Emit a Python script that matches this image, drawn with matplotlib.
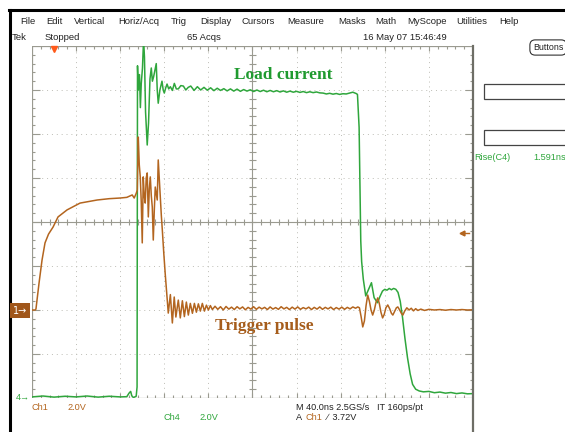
import numpy as np
import matplotlib
matplotlib.use("Agg")
import matplotlib.pyplot as plt
from matplotlib.lines import Line2D
from matplotlib.patches import Rectangle
from matplotlib.collections import LineCollection

# ---------------- data (time in ns, volts) ----------------
trig_t = [0, 3, 3.6, 6.4, 9.1, 11.8, 15, 19.1, 23.6, 31.8, 43.6, 59.1, 70, 80, 86, 90.9, 92.7, 94.5, 95.5,
          96.4, 97.3, 98.2, 99.1, 100, 100.9, 101.8, 102.7, 103.6, 104.5, 105.5, 106.4, 107.3, 108.2, 109.1,
          110, 110.9, 111.8, 112.7, 113.6, 114.5, 115.5, 116.4, 117.3, 118.2, 119.5, 120.9, 122, 123.6, 125.5,
          127.3, 129, 130.5, 132.7, 134.5, 136.4, 138.2, 140, 141.8, 143.6, 145.5, 147.3, 149.1, 150.9, 152.7,
          154.5, 156.4, 158.2, 160, 161.8, 163.6,
          166, 168.5, 171, 173.5, 176, 178.5, 181, 183.5, 186, 188.5,
          191, 193.5, 196, 198.5, 201, 203.5, 206, 208.5, 211, 213.5,
          216, 218.5, 221, 223.5, 226, 228.5, 231, 233.5, 236, 238.5,
          241, 243.5, 246, 248.5, 251, 253.5, 256, 258.5, 261, 263.5,
          266, 268.5, 271, 273.5, 276, 278.5, 281, 283.5, 286, 288.5,
          291, 293.5,
          295.5, 297, 298.5, 300, 301.5, 303, 304.5, 306, 307.5, 309, 310.5, 312, 313.6, 315, 316.5, 318, 319.5,
          321, 322.7, 324.5, 326, 327.3, 329, 330.5, 331.8, 333.5, 335, 336.4, 338, 340, 342, 344, 346, 348,
          350, 352.7, 356, 360, 365, 370, 375, 380, 385, 390, 395, 400]
trig_v = [0, 0, 0.05, 1.23, 2.27, 3.05, 3.45, 3.77, 4.23, 4.55, 4.86, 5.0, 5.06, 5.09, 5.12, 5.23, 5.09, 5.3, 5.45,
          7.86, 6.6, 6.05, 4.9, 3.05, 6.05, 5.2, 4.86, 6.0, 6.23, 4.23, 5.5, 6.05, 5.2, 4.68,
          3.18, 4.5, 5.59, 5.3, 5.0, 6.82, 5.9, 5.0, 4.3, 3.64, 2.6, 1.6, 0.9, -0.14, 0.7,
          -0.59, 0.59, -0.32, 0.45, -0.36, 0.42, -0.3, 0.36, -0.23, 0.3, -0.15, 0.3, -0.1, 0.28, -0.05,
          0.3, -0.05, 0.22, 0.0, 0.2, 0.02,
          0.17, 0.03, 0.15, 0.00, 0.16, 0.04, 0.13, 0.02, 0.15, 0.05,
          0.14, 0.01, 0.12, 0.04, 0.15, 0.03, 0.13, 0.05, 0.12, 0.02,
          0.14, 0.04, 0.11, 0.03, 0.15, 0.05, 0.12, 0.02, 0.13, 0.04,
          0.14, 0.03, 0.11, 0.05, 0.13, 0.02, 0.12, 0.04, 0.14, 0.03,
          0.12, 0.05, 0.13, 0.02, 0.11, 0.04, 0.13, 0.03, 0.12, 0.05,
          0.14, 0.08,
          0.14, 0.1, -0.3, -0.77, -0.5, 0.2, 0.68, 0.4, 0.0, -0.23, 0.0, 0.35, 0.55, 0.3, -0.1, -0.36, -0.2,
          0.1, 0.23, 0.05, -0.15, -0.23, -0.05, 0.1, 0.14, 0.0, -0.15, -0.23, -0.05, 0.1, 0.0, 0.08, -0.04, 0.06,
          -0.02, 0.04, -0.02, 0.03, 0.0, 0.02, -0.01, 0.02, 0.0, 0.02, 0.0, 0.01]

load_t = [0, 10, 20, 30, 40, 50, 60, 70, 80, 86, 88, 89.5, 90.5, 92, 94.5,
          95.3, 95.7, 96.4, 97.5, 98.3, 99.1, 100.2, 101.2, 102, 103, 104.5, 105.7, 107, 108.2, 109.2, 110.3,
          111.5, 112.7, 113.6, 114.5, 116, 117.9, 119, 120, 121.3, 122.5, 124, 125.5, 127.3, 129.1, 130.9,
          132.7, 135, 137.3, 139.5, 141.7,
          144, 147, 150, 153, 156, 159, 162, 165, 168, 171,
          174, 177, 180, 183, 186, 189, 192, 195, 198, 201,
          204, 207, 210, 213, 216, 219, 222, 225, 228, 231,
          234, 237, 240, 243, 246, 249, 252, 255, 258, 261,
          264, 267, 270, 273, 276, 279, 282, 285, 288, 291,
          294,
          295.2, 296.7, 298.2, 299, 300.5, 302.7, 305, 307.9, 310.3, 313.4, 315.5, 317.9, 320, 322, 324, 326,
          328, 330, 332, 334, 336.1, 338.3, 340.6, 343, 345.2, 348, 351.2, 355, 360, 365, 370, 375, 380, 385,
          390, 395, 400]
load_v = [0.05, 0.09, 0.04, 0.08, 0.05, 0.09, 0.04, 0.08, 0.05, 0.06, 0.22, 0.3, 0.1, 0.02, 0.08,
          0.5, 15.1, 14.0, 14.7, 13.2, 14.3, 15.0, 16.3, 15.5, 13.0, 11.5, 12.5, 14.5, 15.0, 14.4, 14.6,
          14.9, 15.2, 14.0, 13.4, 14.0, 14.4, 14.0, 13.86, 14.1, 14.27, 14.05, 14.15, 13.98, 14.3, 14.05,
          14.05, 14.2, 14.18, 14.0, 14.12,
          14.18, 13.98, 14.15, 14.00, 14.12, 13.99, 14.10, 13.97, 14.08, 13.98,
          14.06, 13.96, 14.05, 13.95, 14.04, 13.94, 14.02, 13.95, 14.01, 13.93,
          14.00, 13.93, 13.99, 13.92, 13.98, 13.92, 13.97, 13.91, 13.96, 13.90,
          13.95, 13.90, 13.94, 13.89, 13.93, 13.88, 13.92, 13.88, 13.91, 13.87,
          13.86, 13.82, 13.85, 13.81, 13.84, 13.80, 13.83, 13.82, 13.86, 13.90,
          13.84,
          13.8, 12.3, 7.14, 6.2, 5.4, 4.64, 4.9, 5.24, 4.56, 4.33, 4.6, 4.86, 4.94, 4.9, 4.98, 4.92,
          4.98, 4.94, 4.8, 4.4, 3.65, 2.7, 1.83, 1.1, 0.62, 0.4, 0.32, 0.28, 0.3, 0.24, 0.27, 0.22, 0.25, 0.2,
          0.23, 0.19, 0.2]

ch1_scale, ch1_offset = 2.0, -2.0   # V/div, div
ch4_scale, ch4_offset = 2.0, -4.0
trig_level = 3.72
trig_pos = 20.0

menu_items = ["File", "Edit", "Vertical", "Horiz/Acq", "Trig", "Display", "Cursors",
              "Measure", "Masks", "Math", "MyScope", "Utilities", "Help"]
menu_x = [20, 46, 74, 118, 171, 200, 242, 287, 338, 375, 407, 456, 499]

BROWN = "#b3651f"
GREEN = "#2fa63c"
GRID = "#9a9a90"
W, H = 565, 432

fig = plt.figure(figsize=(W / 100, H / 100), dpi=100)
fig.patch.set_facecolor("white")

def fx(x):
    return x / W

def fy(y):
    return 1 - y / H

FONT = "Liberation Sans"

def ftext(x, y, s, size=6.6, color="#222222", **kw):
    fig.text(fx(x), fy(y), s, fontsize=size, color=color, family=FONT,
             va="center", ha=kw.pop("ha", "left"), **kw)

# outer black frame (top + left)
fig.add_artist(Line2D([fx(9), 1.0], [fy(10), fy(10)], color="black", lw=2.2))
fig.add_artist(Line2D([fx(10), fx(10)], [fy(10), 0.0], color="black", lw=2.2))

# menu bar
for s, x in zip(menu_items, menu_x):
    ftext(x, 21.5, s, size=6.8)
ftext(12, 38, "Tek", size=6.8)
ftext(45, 38, "Stopped", size=6.8)
ftext(187, 38, "65 Acqs", size=6.8)
ftext(363, 38, "16 May 07 15:46:49", size=6.8)
fig.text(fx(533), fy(47.5), "Buttons", fontsize=6.4, family=FONT, color="#222",
         va="center", ha="left",
         bbox=dict(boxstyle="round,pad=0.35,rounding_size=0.6", fc="white", ec="#333", lw=0.8))

# right panel boxes and measurement readout
for y0 in (84, 130):
    fig.add_artist(Rectangle((fx(484), fy(y0 + 15)), fx(82), 15 / H, fill=False,
                             ec="#444", lw=0.9, transform=fig.transFigure))
ftext(474, 157, "Rise(C4)", color=GREEN)
ftext(533, 157, "1.591ns", color=GREEN)

# ---------------- graticule axes ----------------
ax = fig.add_axes([fx(32), fy(398), 441 / W, 352 / H])
ax.set_xlim(0, 400)
ax.set_ylim(-4, 4)
ax.axis("off")

# dotted division lines
for i in range(1, 10):
    if i != 5:
        ax.axvline(40 * i, color="#bdbdb5", lw=0.7, ls=(0, (1, 4)), zorder=1)
for j in range(-3, 4):
    if j != 0:
        ax.axhline(j, color="#bdbdb5", lw=0.7, ls=(0, (1, 4)), zorder=1)
# centre lines and border
ax.axvline(200, color=GRID, lw=0.8, zorder=1)
ax.axhline(0, color=GRID, lw=0.8, zorder=1)
ax.plot([0, 0, 400], [-4, 4, 4], color=GRID, lw=0.9, zorder=1)
ax.plot([0, 400], [-4, -4], color=GRID, lw=0.9, zorder=1)

# tick marks
dx_px = 40 / 44.0  # ns per pixel
dy_px = 1 / 44.0   # div per pixel
segs = []
for k in range(1, 50):
    t = 8 * k
    major = (k % 5 == 0)
    L = 3
    segs.append([(t, -L * dy_px), (t, L * dy_px)])
    segs.append([(t, 4), (t, 4 - (L + (2 if major else 0)) * dy_px)])
    segs.append([(t, -4), (t, -4 + (L + (2 if major else 0)) * dy_px)])
for k in range(1, 40):
    v = -4 + 0.2 * k
    major = (k % 5 == 0)
    L = 3
    segs.append([(200 - L * dx_px, v), (200 + L * dx_px, v)])
    segs.append([(0, v), ((L + (5 if major else 0)) * dx_px, v)])
    segs.append([(400, v), (400 - (L + (5 if major else 0)) * dx_px, v)])
ax.add_collection(LineCollection(segs, colors=GRID, linewidths=0.8, zorder=1))

# traces
ch1_div = np.array(trig_v) / ch1_scale + ch1_offset
ch4_div = np.array(load_v) / ch4_scale + ch4_offset
ax.plot(load_t, ch4_div, color=GREEN, lw=1.1, zorder=3)
ax.plot(trig_t, ch1_div, color=BROWN, lw=1.1, zorder=4)

# trigger markers
ax.plot([trig_pos], [4 - 3 * dy_px], marker="v", color="#ff5a1a", ms=4.5, zorder=5, clip_on=False)
tl = trig_level / ch1_scale + ch1_offset
ax.plot([390], [tl - 0.1], marker="<", color=BROWN, ms=3.5, zorder=5)
ax.plot([390, 396], [tl - 0.1, tl - 0.1], color=BROWN, lw=1.0, zorder=5)

# annotations
ax.text(228, (222 - 75) / 44.0, "Load current", color="#1f9a2f", fontsize=12.5,
        family="Liberation Serif", weight="bold", ha="center", va="center")
ax.text(211, (222 - 326) / 44.0, "Trigger pulse", color="#a65d1c", fontsize=12.5,
        family="Liberation Serif", weight="bold", ha="center", va="center")

# right edge of graticule
fig.add_artist(Line2D([fx(473), fx(473)], [fy(46), 0.0], color="#6e6e66", lw=1.6))

# channel ground markers
fig.text(fx(13), fy(310.5), "1\u2192", fontsize=7.0, color="white", family="DejaVu Sans",
         va="center", ha="left", bbox=dict(boxstyle="square,pad=0.3", fc="#a0561a", ec="none"))
ftext(16, 397.5, "4\u2192", color=GREEN, size=6.6)

# bottom readouts
ftext(32, 408, "Ch1", color=BROWN)
ftext(67, 408, "2.0V", color=BROWN)
ftext(164, 418, "Ch4", color=GREEN)
ftext(199, 418, "2.0V", color=GREEN)
ftext(296, 408, "M 40.0ns 2.5GS/s")
ftext(377, 408, "IT 160ps/pt")
ftext(296, 418, "A")
ftext(306, 418, "Ch1", color=BROWN)
ftext(327, 418, "\u2215  3.72V")

fig.savefig("out.png", dpi=100, facecolor="white")
